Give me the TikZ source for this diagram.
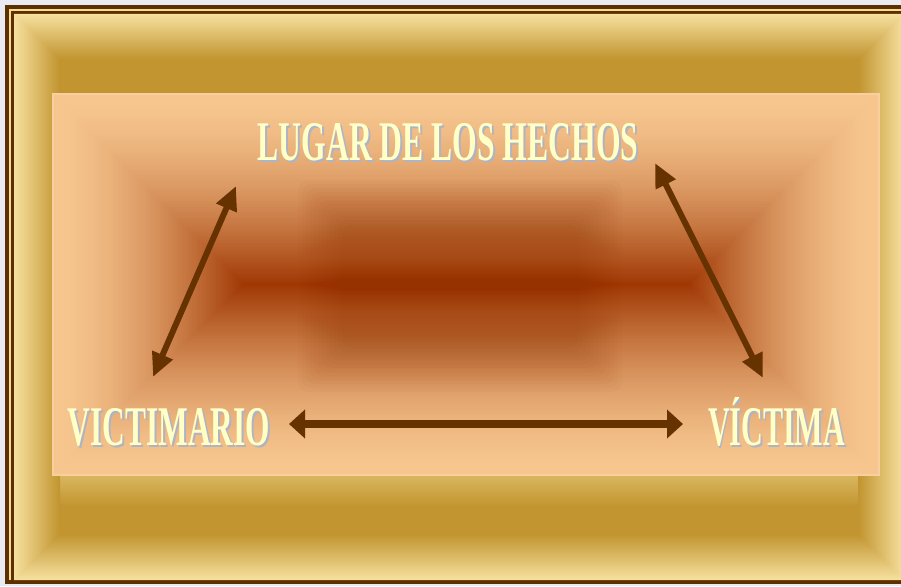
\documentclass[tikz,border=0pt]{standalone}
\usepackage{fontspec}
\setmainfont{Liberation Serif}
\usetikzlibrary{arrows.meta}
\definecolor{bgray}{HTML}{E8EBF2}
\definecolor{dbrown}{HTML}{5E3000}
\definecolor{cream}{HTML}{F5DC98}
\definecolor{goldlight}{HTML}{F6E09E}
\definecolor{golddark}{HTML}{C29530}
\definecolor{halo}{HTML}{D8B65E}
\definecolor{peach}{HTML}{F7C68F}
\definecolor{peachedge}{HTML}{F9CFA0}
\definecolor{rust}{HTML}{A03804}
\definecolor{blobc}{HTML}{8E3200}
\definecolor{arrowc}{HTML}{663300}
\definecolor{txtc}{HTML}{FFFFC6}
\definecolor{shadc}{HTML}{AEB4C4}
\newcommand{\shadowtext}[2]{\scalebox{#1}[1]{\makebox[0pt][l]{\hspace{3.4pt}\raisebox{-2pt}{\textcolor{shadc}{#2}}}\textcolor{txtc}{#2}}}
\tikzset{
  lbl/.style={inner sep=0pt, anchor=base, font=\fontsize{56}{56}\selectfont\bfseries},
  diagarrow/.style={draw=arrowc, line width=6pt, {Triangle[length=24pt,width=21pt]}-{Triangle[length=24pt,width=21pt]}},
  horarrow/.style={draw=arrowc, line width=8pt, {Triangle[length=16pt,width=28pt]}-{Triangle[length=16pt,width=28pt]}}
}
\begin{document}
\begin{tikzpicture}[x=1pt,y=-1pt]
\useasboundingbox (0,0) rectangle (901,586);
\fill[bgray] (0,0) rectangle (901,586);
% frame lines
\fill[dbrown] (5,5) rectangle (915,584);
\fill[cream] (9,9) rectangle (915,580);
\fill[dbrown] (11,11) rectangle (915,580);
% gold plateau
\fill[golddark] (14,14) rectangle (904,580);
% light halo below inner panel
\foreach \i in {0,...,30}{
  \pgfmathtruncatemacro\p{100*\i/30}
  \fill[golddark!\p!halo] (14,476+\i) rectangle (904,477+\i);
}
% gold edge gradient as rings
\foreach \i in {0,...,45}{
  \pgfmathtruncatemacro\p{100*\i/45}
  \fill[golddark!\p!goldlight, even odd rule] (14+\i,14+\i) rectangle (904-\i,580-\i) (15+\i,15+\i) rectangle (903-\i,579-\i);
}
% inner panel box gradient
\fill[peachedge] (52,93) rectangle (880,476);
\foreach \dd in {2,...,190}{
  \pgfmathtruncatemacro\p{100*((\dd/190)^1.6)}
  \fill[rust!\p!peach] (52+\dd,93+\dd) rectangle (880-\dd,476-\dd);
}
% soft dark blob in the middle
\foreach \k in {0,...,11}{
  \fill[blobc, opacity=0.028, rounded corners=10pt] (298+4*\k,180+4*\k) rectangle (622-4*\k,392-4*\k);
}
% arrow end points
\coordinate (lA) at (236,186);
\coordinate (lB) at (153,377);
\coordinate (rA) at (655,163);
\coordinate (rB) at (763,378);
\coordinate (hA) at (289,424);
\coordinate (hB) at (683,424);
\draw[diagarrow] (lB) -- (lA);
\draw[diagarrow] (rA) -- (rB);
\draw[horarrow] (hA) -- (hB);
% labels
\node[lbl] (lugar) at (448,160) {\shadowtext{0.565}{LUGAR DE LOS HECHOS}};
\node[lbl] (victimario) at (169,445) {\shadowtext{0.56}{VICTIMARIO}};
\node[lbl] (victima) at (776.5,445) {\shadowtext{0.537}{VÍCTIMA}};
\end{tikzpicture}
\end{document}
